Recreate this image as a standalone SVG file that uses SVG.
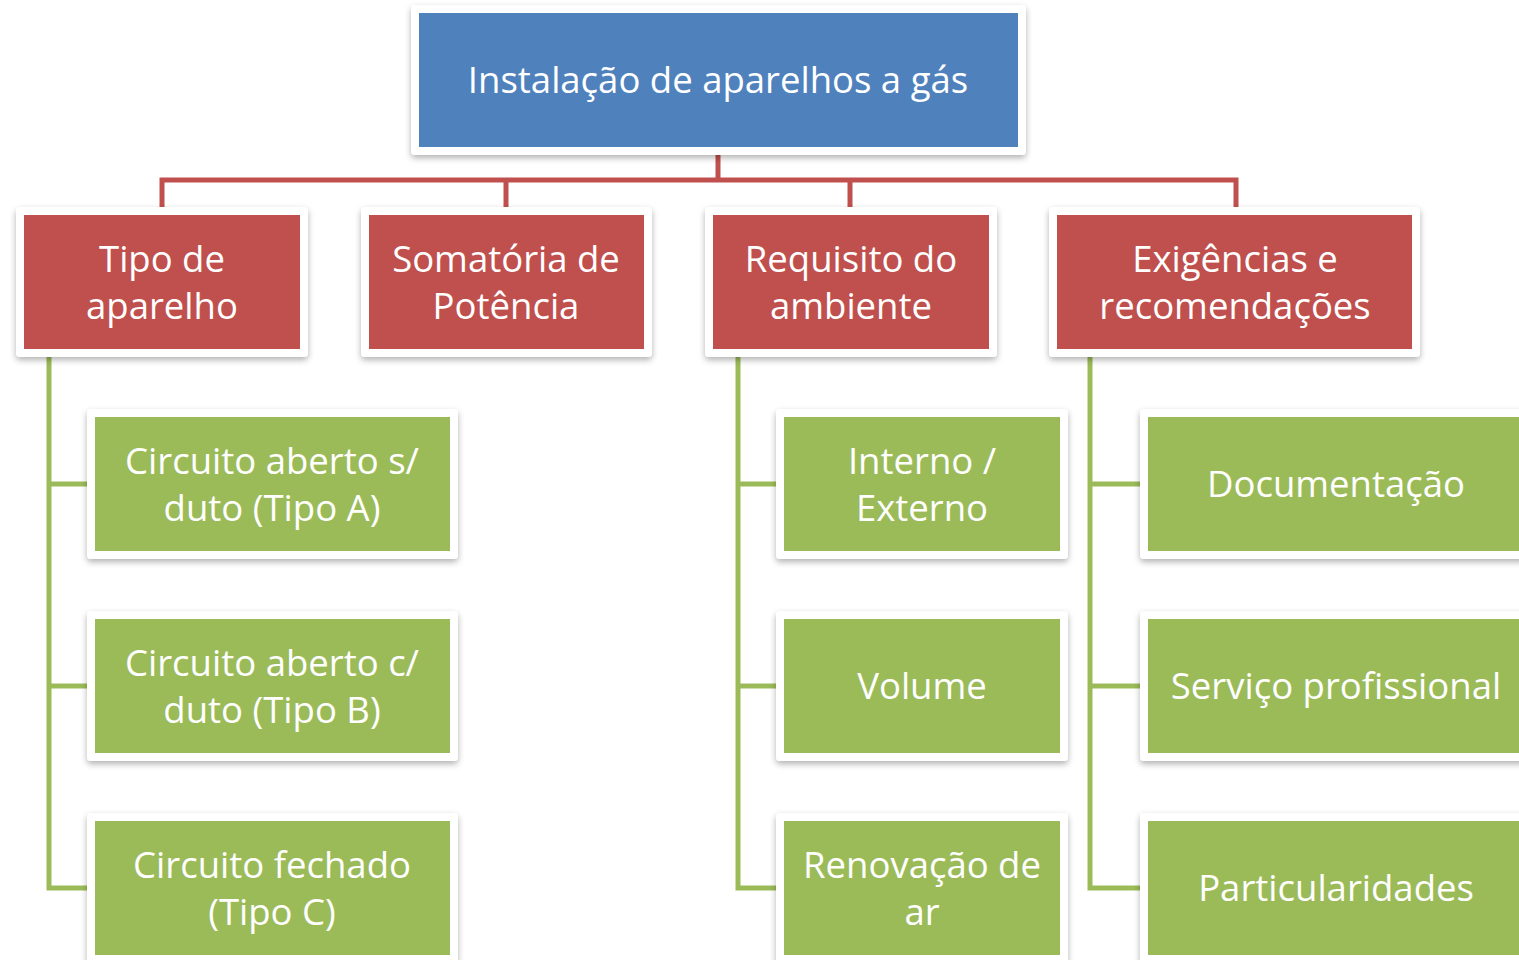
<svg xmlns="http://www.w3.org/2000/svg" width="1519" height="960" viewBox="0 0 1519 960">
<defs>
<filter id="sh" x="-10%" y="-10%" width="120%" height="130%">
<feDropShadow dx="0" dy="3" stdDeviation="3" flood-color="#000" flood-opacity="0.3"/>
</filter>
<style>
.frame{fill:#fff;filter:url(#sh)}
.blue{fill:#4F81BD}
.red{fill:#C0504D}
.green{fill:#9BBB59}
.t{font-family:"Open Sans","Noto Sans",sans-serif;font-size:36.5px;fill:#fff;text-anchor:middle}
.rc{fill:none;stroke:#C0504D;stroke-width:5}
.gc{fill:none;stroke:#9BBB59;stroke-width:5}
</style>
</defs>
<rect width="1519" height="960" fill="#fff"/>
<g id="connectors">
<path class="rc" d="M718 155V180M162 213V180H1236V213M506 180V213M850 180V213"/>
<path class="gc" d="M49 357V888H87M49 484H87M49 686H87"/>
<path class="gc" d="M738 357V888H776M738 484H776M738 686H776"/>
<path class="gc" d="M1090 357V888H1140M1090 484H1140M1090 686H1140"/>
</g>
<g id="root">
<rect class="frame" x="411" y="5" width="615" height="150" rx="4"/>
<rect class="blue" x="419" y="13" width="599" height="134"/>
<text class="t" x="718" y="93">Instalação de aparelhos a gás</text>
</g>
<g id="tipo">
<rect class="frame" x="16" y="207" width="292" height="150" rx="4"/>
<rect class="red" x="24" y="215" width="276" height="134"/>
<text class="t" x="162" y="272">Tipo de</text>
<text class="t" x="162" y="319">aparelho</text>
</g>
<g id="somatoria">
<rect class="frame" x="361" y="207" width="291" height="150" rx="4"/>
<rect class="red" x="369" y="215" width="275" height="134"/>
<text class="t" x="506" y="272">Somatória de</text>
<text class="t" x="506" y="319">Potência</text>
</g>
<g id="requisito">
<rect class="frame" x="705" y="207" width="292" height="150" rx="4"/>
<rect class="red" x="713" y="215" width="276" height="134"/>
<text class="t" x="851" y="272">Requisito do</text>
<text class="t" x="851" y="319">ambiente</text>
</g>
<g id="exigencias">
<rect class="frame" x="1049" y="207" width="371" height="150" rx="4"/>
<rect class="red" x="1057" y="215" width="355" height="134"/>
<text class="t" x="1235" y="272">Exigências e</text>
<text class="t" x="1235" y="319">recomendações</text>
</g>
<g id="tipoA">
<rect class="frame" x="87" y="409" width="371" height="150" rx="4"/>
<rect class="green" x="95" y="417" width="355" height="134"/>
<text class="t" x="272" y="474">Circuito aberto s/</text>
<text class="t" x="272" y="521">duto (Tipo A)</text>
</g>
<g id="tipoB">
<rect class="frame" x="87" y="611" width="371" height="150" rx="4"/>
<rect class="green" x="95" y="619" width="355" height="134"/>
<text class="t" x="272" y="676">Circuito aberto c/</text>
<text class="t" x="272" y="723">duto (Tipo B)</text>
</g>
<g id="tipoC">
<rect class="frame" x="87" y="813" width="371" height="150" rx="4"/>
<rect class="green" x="95" y="821" width="355" height="134"/>
<text class="t" x="272" y="878">Circuito fechado</text>
<text class="t" x="272" y="925">(Tipo C)</text>
</g>
<g id="interno">
<rect class="frame" x="776" y="409" width="292" height="150" rx="4"/>
<rect class="green" x="784" y="417" width="276" height="134"/>
<text class="t" x="922" y="474">Interno /</text>
<text class="t" x="922" y="521">Externo</text>
</g>
<g id="volume">
<rect class="frame" x="776" y="611" width="292" height="150" rx="4"/>
<rect class="green" x="784" y="619" width="276" height="134"/>
<text class="t" x="922" y="699">Volume</text>
</g>
<g id="renovacao">
<rect class="frame" x="776" y="813" width="292" height="150" rx="4"/>
<rect class="green" x="784" y="821" width="276" height="134"/>
<text class="t" x="922" y="878">Renovação de</text>
<text class="t" x="922" y="925">ar</text>
</g>
<g id="documentacao">
<rect class="frame" x="1140" y="409" width="392" height="150" rx="4"/>
<rect class="green" x="1148" y="417" width="376" height="134"/>
<text class="t" x="1336" y="497">Documentação</text>
</g>
<g id="servico">
<rect class="frame" x="1140" y="611" width="392" height="150" rx="4"/>
<rect class="green" x="1148" y="619" width="376" height="134"/>
<text class="t" x="1336" y="699">Serviço profissional</text>
</g>
<g id="particularidades">
<rect class="frame" x="1140" y="813" width="392" height="150" rx="4"/>
<rect class="green" x="1148" y="821" width="376" height="134"/>
<text class="t" x="1336" y="901">Particularidades</text>
</g>
</svg>
